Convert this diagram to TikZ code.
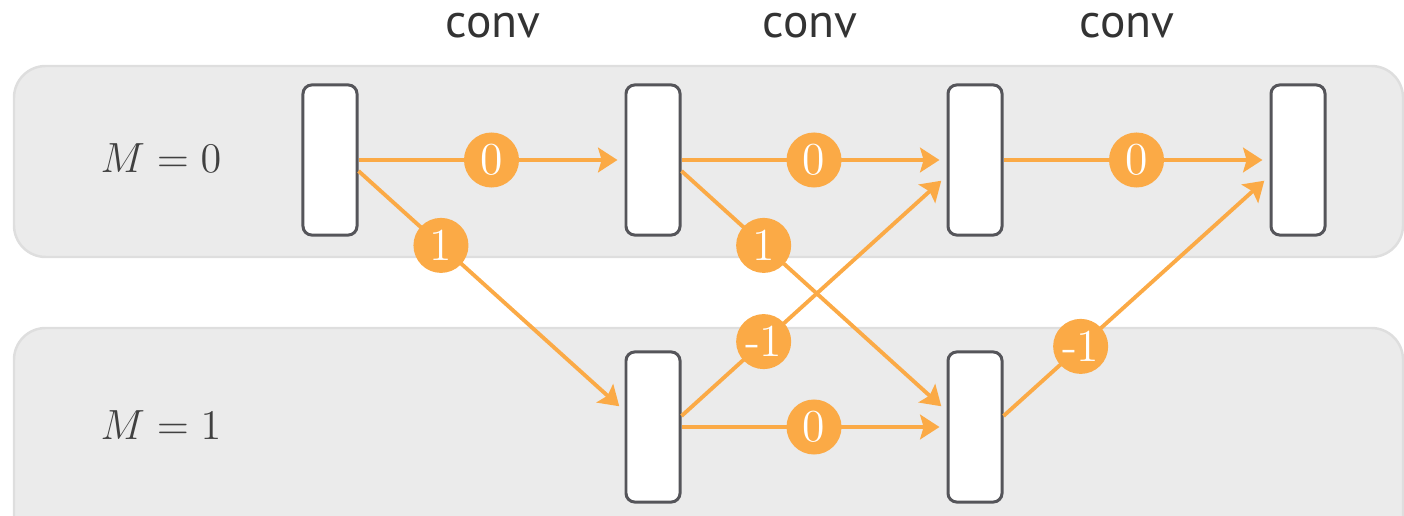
\documentclass[tikz,border=0pt]{standalone}
\usepackage{fontspec}
\newfontfamily\convfont{PT Sans}
\usetikzlibrary{arrows.meta,positioning}
\definecolor{edgeorange}{RGB}{251,170,70}
\definecolor{bandgray}{RGB}{235,235,235}
\definecolor{bandline}{RGB}{222,222,222}
\definecolor{boxline}{RGB}{85,85,90}

\begin{document}
\begin{tikzpicture}[x=0.01cm,y=-0.01cm,->,>={Stealth[length=5.5pt,width=7pt,inset=1pt]},shorten >=2pt,
edgeorange,line width=1.1pt,
layer/.style={draw=boxline,fill=white,rounded corners=2.5pt,minimum width=0.54cm,minimum height=1.5cm,line width=0.85pt},
weight/.style={circle,fill=edgeorange,text=white,inner sep=0pt,minimum size=0.55cm,font=\fontsize{13}{13}\selectfont},
band/.style={-,shorten >=0pt,draw=bandline,fill=bandgray,rounded corners=9pt,line width=0.7pt},
mlabel/.style={text=black!75,font=\fontsize{12.5}{15}\selectfont},
convlabel/.style={text=black!80,font=\convfont\fontsize{13.5}{15}\selectfont}]
\useasboundingbox (0,0) rectangle (1404,516);
\clip (0,0) rectangle (1404,516);

% rows
\draw[band] (14,66) rectangle (1403,257);
\draw[band] (14,328) rectangle (1403,560);
\node[mlabel] (m0) at (161,158) {$M = 0$};
\node[mlabel] (m1) at (161,425) {$M = 1$};

% layers
\node[layer] (a0) at (330,160) {};
\node[layer] (a1) at (653,160) {};
\node[layer] (a2) at (975,160) {};
\node[layer] (a3) at (1298,160) {};
\node[layer] (b1) at (653,427) {};
\node[layer] (b2) at (975,427) {};

\node[convlabel] (c1) at (493,26) {conv};
\node[convlabel] (c2) at (810,26) {conv};
\node[convlabel] (c3) at (1127,26) {conv};

\draw (a0) -- node[weight]{0} (a1);
\draw (a1) -- node[weight]{0} (a2);
\draw (a2) -- node[weight]{0} (a3);
\draw (b1) -- node[weight]{0} (b2);
\draw ([yshift=-0.11cm]a0.east) -- node[weight,pos=.31]{1} ([yshift=0.16cm]b1.west);
\draw ([yshift=-0.11cm]a1.east) -- node[weight,pos=.31]{1} ([yshift=0.16cm]b2.west);
\draw ([yshift=0.11cm]b1.east) -- node[weight,pos=.31]{-1} ([yshift=-0.16cm]a2.west);
\draw ([yshift=0.11cm]b2.east) -- node[weight,pos=.29]{-1} ([yshift=-0.16cm]a3.west);

\end{tikzpicture}
\end{document}
